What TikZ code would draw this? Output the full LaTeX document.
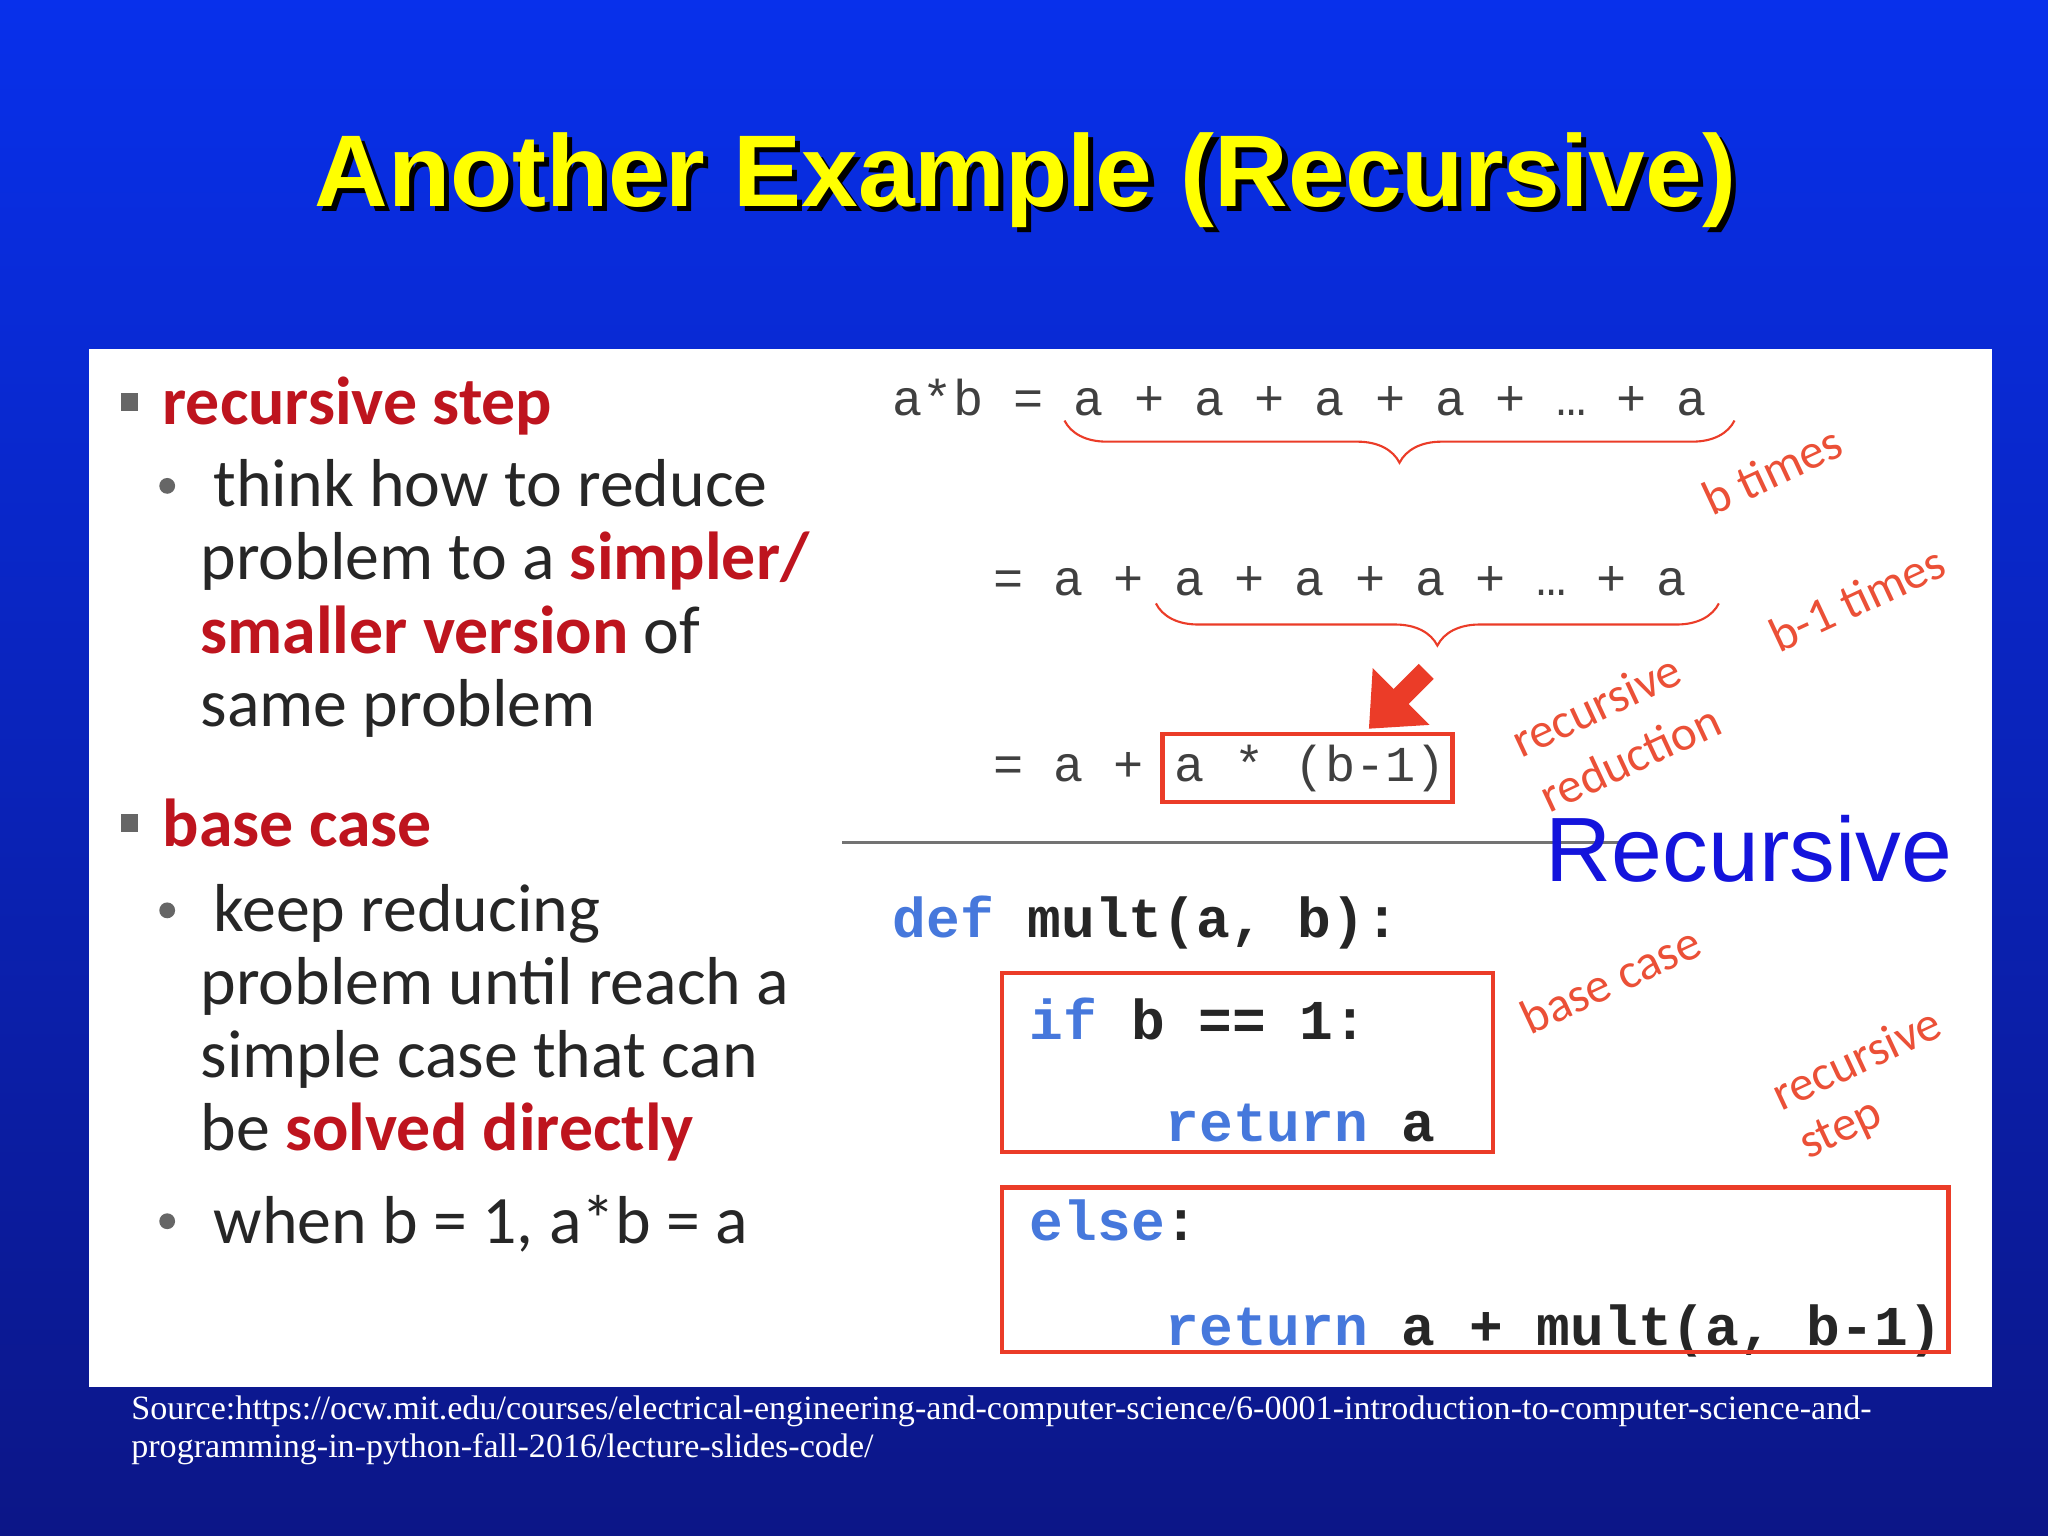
\documentclass[tikz,border=0pt]{standalone}
\usepackage{fontspec}
\setmainfont{Liberation Serif}
\newfontfamily\calfnt{Carlito}
\newfontfamily\arl{Liberation Sans}
\newfontfamily\mono{Liberation Mono}
\usetikzlibrary{decorations.pathreplacing,arrows.meta,shadows}
\definecolor{rd}{RGB}{190,20,30}
\definecolor{ann}{RGB}{235,80,55}
\definecolor{kw}{RGB}{70,120,220}
\definecolor{bx}{RGB}{235,60,40}
\tikzset{
 lt/.style={anchor=base west,inner sep=0pt,font=\calfnt\fontsize{19.3}{22}\selectfont,text=black!85},
 hd/.style={anchor=base west,inner sep=0pt,font=\calfnt\bfseries\fontsize{19.3}{22}\selectfont,text=rd},
 mt/.style={anchor=base west,inner sep=0pt,font=\mono\fontsize{14.3}{16}\selectfont,text=black!75},
 cd/.style={anchor=base west,inner sep=0pt,font=\mono\bfseries\fontsize{16}{18}\selectfont,text=black!85},
 an/.style={inner sep=0pt,rotate=25,font=\calfnt\fontsize{14}{16}\selectfont,text=ann},
 rbox/.style={draw=bx,line width=1.3pt},
 brc/.style={draw=bx,line width=0.6pt,decorate,decoration={brace,mirror,amplitude=12pt}},
 sq/.style={fill=black!60,minimum size=5pt,inner sep=0pt},
 dt/.style={circle,fill=black!60,minimum size=4.5pt,inner sep=0pt}
}
\begin{document}
\begin{tikzpicture}[x=0.013061cm,y=-0.013061cm]
\shade[top color={rgb,255:red,8;green,48;blue,235},bottom color={rgb,255:red,12;green,22;blue,135}] (0,0) rectangle (1568,1176);
\useasboundingbox (0,0) rectangle (1568,1176);
\node[inner sep=0pt,font=\arl\bfseries\fontsize{29}{34}\selectfont,text=black] at (789,142) {Another Example (Recursive)};
\node[inner sep=0pt,font=\arl\bfseries\fontsize{29}{34}\selectfont,text={rgb,255:red,255;green,255;blue,0}] (title) at (785,138) {Another Example (Recursive)};
\fill[white] (68,267) rectangle (1525,1062);
% left
\node[sq] (s1) at (99,308) {};
\node[hd] (h1) at (124,325) {recursive step};
\node[dt] (d1) at (128,372) {};
\node[lt] (l1) at (163,388) {think how to reduce};
\node[lt] (l2) at (153,444) {problem to a \textcolor{rd}{\bfseries simpler/}};
\node[lt] (l3) at (153,500) {\textcolor{rd}{\bfseries smaller version} of};
\node[lt] (l4) at (153,556) {same problem};
\node[sq] (s2) at (99,630) {};
\node[hd] (h2) at (124,648) {base case};
\node[dt] (d2) at (128,697) {};
\node[lt] (l5) at (163,713) {keep reducing};
\node[lt] (l6) at (153,769) {problem until reach a};
\node[lt] (l7) at (153,825) {simple case that can};
\node[lt] (l8) at (153,881) {be \textcolor{rd}{\bfseries solved directly}};
\node[dt] (d3) at (128,935) {};
\node[lt] (l9) at (163,952) {when b = 1, a*b = a};
% math
\node[mt] (m1) at (683,318) {a*b = a + a + a + a + … + a};
\node[mt] (m2) at (760,456) {= a + a + a + a + … + a};
\node[mt] (m3) at (760,598) {= a + a * (b-1)};
\coordinate (b1l) at (815,322); \coordinate (b1r) at (1328,322);
\coordinate (b2l) at (885,462); \coordinate (b2r) at (1316,462);
\draw[brc] (b1l) -- (b1r);
\draw[brc] (b2l) -- (b2r);
\coordinate (bxa) at (890,562); \coordinate (bxb) at (1112,614);
\draw[rbox] (bxa) rectangle (bxb);
\coordinate (ar1) at (1092,514); \coordinate (ar2) at (1048,558);
\draw[bx,line width=6pt,-{Triangle[length=13pt,width=22pt]}] (ar1) -- (ar2);
\coordinate (sepl) at (645,645); \coordinate (sepr) at (1240,645);
\draw[black!55,line width=0.8pt] (sepl) -- (sepr);
\node[an] (a1) at (1357,360) {b times};
\node[an] (a2) at (1422,458) {b-1 times};
\node[an] (a3) at (1222,540) {recursive};
\node[an] (a4) at (1248,580) {reduction};
\node[anchor=base west,inner sep=0pt,font=\arl\fontsize{26}{30}\selectfont,text={rgb,255:red,20;green,20;blue,220}] (rec) at (1183,675) {Recursive};
% code
\node[cd] (c1) at (683,718) {\textcolor{kw}{def} mult(a, b):};
\node[cd] (c2) at (788,796) {\textcolor{kw}{if} b == 1:};
\node[cd] (c3) at (892,874) {\textcolor{kw}{return} a};
\node[cd] (c4) at (788,950) {\textcolor{kw}{else}:};
\node[cd] (c5) at (892,1030) {\textcolor{kw}{return} a + mult(a, b-1)};
\coordinate (k1) at (767,745); \coordinate (k2) at (1143,882);
\coordinate (k3) at (767,909); \coordinate (k4) at (1492,1035);
\draw[rbox] (k1) rectangle (k2);
\draw[rbox] (k3) rectangle (k4);
\node[an] (a5) at (1233,750) {base case};
\node[an] (a6) at (1421,810) {recursive};
\node[an] (a7) at (1410,866) {step};
% source
\node[anchor=north west,inner sep=0pt,align=left,text=white,font=\fontsize{9.7}{10.8}\selectfont] (src) at (100,1068) {Source:https://ocw.mit.edu/courses/electrical-engineering-and-computer-science/6-0001-introduction-to-computer-science-and-\\programming-in-python-fall-2016/lecture-slides-code/};
\end{tikzpicture}
\end{document}
